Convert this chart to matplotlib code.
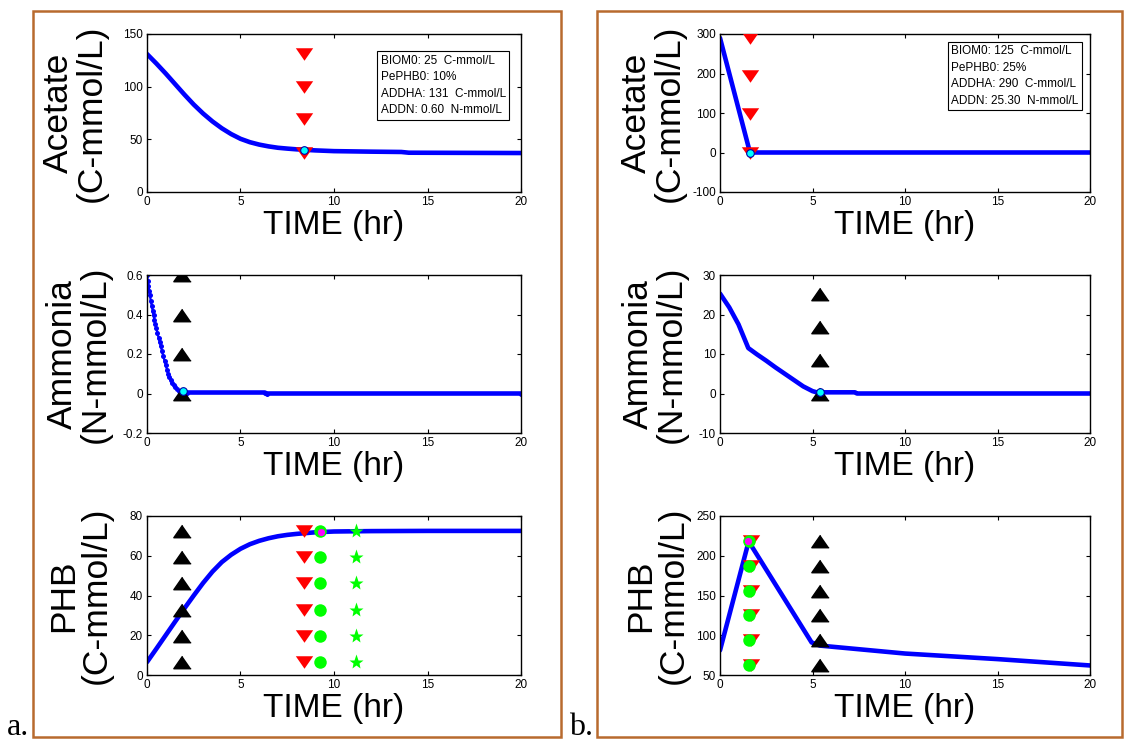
import matplotlib
matplotlib.use("Agg")
import matplotlib.pyplot as plt
from matplotlib.patches import Rectangle
from matplotlib.ticker import FormatStrFormatter

plt.rcParams['font.family'] = ['Liberation Sans', 'DejaVu Sans']
plt.rcParams['axes.unicode_minus'] = False

# ---------------- data ----------------
# panel a, acetate
t_ac_a = [0, 0.5, 1, 1.5, 2, 2.5, 3, 3.5, 4, 4.5, 5, 5.5, 6, 6.5, 7, 7.5, 8, 9, 10, 12, 13.6, 14, 16, 20]
y_ac_a = [131, 122, 112.5, 102.5, 92.5, 83, 74.5, 67, 60.5, 55, 50.5, 47.3, 45, 43.3, 42, 41.2, 40.5, 39.5, 38.8, 38.3, 38, 37.3, 37.2, 37]
# panel b, acetate
t_ac_b = [0, 1.53, 1.62, 20]
y_ac_b = [290, 16, 0, 0]
# panel a, ammonia
t_nh_a = [0, 0.04, 0.08, 0.12, 0.16, 0.2, 0.25, 0.3, 0.35, 0.4, 0.45, 0.5, 0.56, 0.62, 0.68, 0.74, 0.8, 0.87,
          0.94, 1.0, 1.07, 1.14, 1.2, 1.27, 1.34, 1.42, 1.5, 1.6, 1.7, 1.8, 1.9, 2.0, 2.14, 6.3, 6.4, 20]
y_nh_a = [0.6, 0.57, 0.545, 0.52, 0.497, 0.47, 0.445, 0.42, 0.395, 0.372, 0.35, 0.33, 0.305, 0.282, 0.26, 0.24,
          0.215, 0.19, 0.165, 0.145, 0.12, 0.1, 0.083, 0.068, 0.054, 0.042, 0.032, 0.022, 0.014, 0.009, 0.006,
          0.005, 0.005, 0.005, 0.0, 0.0]
# panel b, ammonia
t_nh_b = [0, 0.5, 1.0, 1.53, 2, 2.5, 3, 3.5, 4, 4.5, 5, 5.3, 5.6, 7.3, 7.4, 20]
y_nh_b = [25.3, 21.8, 17.5, 11.5, 9.9, 8.3, 6.6, 5.0, 3.4, 1.8, 0.6, 0.2, 0.3, 0.3, 0.0, 0.0]
# panel a, PHB
t_phb_a = [0, 0.5, 1, 1.5, 2, 2.5, 3, 3.5, 4, 4.5, 5, 5.5, 6, 6.5, 7, 7.5, 8, 9, 10, 12, 15, 20]
y_phb_a = [6.5, 13.2, 20, 26.8, 33.5, 40, 46.3, 52, 56.8, 60.5, 63.5, 65.8, 67.5, 68.8, 69.8, 70.5, 71, 71.8,
           72.2, 72.4, 72.5, 72.5]
# panel b, PHB
t_phb_b = [0, 1.55, 4.95, 5.4, 10, 15, 20]
y_phb_b = [81, 218, 91, 87, 77, 70, 62]

# measurement markers
ac_a_tri_t = 8.4
ac_a_tri_y = [131, 100, 69, 37]
ac_a_pt = (8.4, 40)
ac_b_tri_t = 1.6
ac_b_tri_y = [290, 193, 97, 0]
ac_b_pt = (1.6, 0)

nh_a_tri_t = 1.85
nh_a_tri_y = [0.6, 0.4, 0.2, 0.0]
nh_a_pt = (1.9, 0.015)
nh_b_tri_t = 5.4
nh_b_tri_y = [25.3, 16.9, 8.4, 0.0]
nh_b_pt = (5.4, 0.3)

phb_a_levels = [6.5, 19.7, 32.9, 46.1, 59.3, 72.5]
phb_a_black_t = 1.85
phb_a_red_t = 8.4
phb_a_green_t = 9.25
phb_a_star_t = 11.2
phb_a_pt = (9.3, 72)

phb_b_levels = [63, 94, 125, 156, 187, 218]
phb_b_red_t = 1.65
phb_b_green_t = 1.55
phb_b_black_t = 5.4
phb_b_pt = (1.5, 218)

info_a = ["BIOM0: 25  C-mmol/L", "PePHB0: 10%", "ADDHA: 131  C-mmol/L", "ADDN: 0.60  N-mmol/L"]
info_b = ["BIOM0: 125  C-mmol/L", "PePHB0: 25%", "ADDHA: 290  C-mmol/L", "ADDN: 25.30  N-mmol/L"]

ylabels = ["Acetate\n(C-mmol/L)", "Ammonia\n(N-mmol/L)", "PHB\n(C-mmol/L)"]
xlabel = "TIME (hr)"

# ---------------- figure ----------------
W, H = 1125, 740
fig = plt.figure(figsize=(W / 100, H / 100), dpi=100)

def fx(px):
    return px / W

def fy(py):
    return 1 - py / H

frame_col = '#B86A2E'
fig.patches.append(Rectangle((fx(33), fy(737)), fx(561 - 33), (737 - 11) / H,
                             transform=fig.transFigure, fill=False, ec=frame_col, lw=1.8))
fig.patches.append(Rectangle((fx(597), fy(737)), fx(1122 - 597), (737 - 11) / H,
                             transform=fig.transFigure, fill=False, ec=frame_col, lw=1.8))
fig.text(fx(7), fy(735), "a.", family=['Liberation Serif'], fontsize=23, ha='left', va='baseline')
fig.text(fx(569), fy(735), "b.", family=['Liberation Serif'], fontsize=23, ha='left', va='baseline')

col_x = [(147, 521), (720, 1090)]
row_y = [(34, 192), (275, 433), (516, 675)]
label_right = [[108, 686], [112, 688], [113, 690]]

ylims = [[(0, 150), (-100, 300)], [(-0.2, 0.6), (-10, 30)], [(0, 80), (50, 250)]]
yticks = [[[0, 50, 100, 150], [-100, 0, 100, 200, 300]],
          [[-0.2, 0, 0.2, 0.4, 0.6], [-10, 0, 10, 20, 30]],
          [[0, 20, 40, 60, 80], [50, 100, 150, 200, 250]]]

axes = {}
for r in range(3):
    for c in range(2):
        x0, x1 = col_x[c]
        y0, y1 = row_y[r]
        ax = fig.add_axes([fx(x0), fy(y1), fx(x1 - x0), (y1 - y0) / H])
        ax.set_xlim(0, 20)
        ax.set_ylim(*ylims[r][c])
        ax.set_xticks([0, 5, 10, 15, 20])
        ax.set_yticks(yticks[r][c])
        ax.yaxis.set_major_formatter(FormatStrFormatter('%g'))
        ax.tick_params(direction='in', top=True, right=True, length=3, width=0.8,
                       labelsize=8.5, pad=3)
        for s in ax.spines.values():
            s.set_linewidth(1.0)
        ax.set_xlabel(xlabel, fontsize=24, labelpad=1)
        ax.set_ylabel(ylabels[r], fontsize=25.5, linespacing=1.0)
        ax.yaxis.set_label_coords((label_right[r][c] - x0) / (x1 - x0), 0.5)
        axes[(r, c)] = ax

LW = 3.3
blue = '#0000FF'
TRI = 12.5
CIRC = 9
up_tri = [(0, 0.72), (-1, -0.72), (1, -0.72)]
down_tri = [(0, -0.72), (-1, 0.72), (1, 0.72)]

# acetate a
ax = axes[(0, 0)]
ax.plot(t_ac_a, y_ac_a, color=blue, lw=LW, zorder=2, solid_capstyle='round')
ax.plot([ac_a_tri_t] * len(ac_a_tri_y), ac_a_tri_y, ls='none', marker=down_tri, color='#FF0000', ms=TRI, mec='none', zorder=3)
ax.plot(*ac_a_pt, 'o', mfc='#00FFFF', mec='#0000AA', ms=5.5, mew=0.8, zorder=4)
ax.text(0.625, 0.87, "\n".join(info_a), transform=ax.transAxes, fontsize=8.5, va='top', ha='left',
        linespacing=1.5, bbox=dict(boxstyle='square,pad=0.3', fc='white', ec='black', lw=0.8))

# acetate b
ax = axes[(0, 1)]
ax.plot(t_ac_b, y_ac_b, color=blue, lw=LW, zorder=2, solid_capstyle='round')
ax.plot([ac_b_tri_t] * len(ac_b_tri_y), ac_b_tri_y, ls='none', marker=down_tri, color='#FF0000', ms=TRI, mec='none', zorder=3)
ax.plot(*ac_b_pt, 'o', mfc='#00FFFF', mec='#0000AA', ms=5.5, mew=0.8, zorder=4)
ax.text(0.625, 0.93, "\n".join(info_b), transform=ax.transAxes, fontsize=8.5, va='top', ha='left',
        linespacing=1.5, bbox=dict(boxstyle='square,pad=0.3', fc='white', ec='black', lw=0.8))

# ammonia a
ax = axes[(1, 0)]
ax.plot(t_nh_a, y_nh_a, color=blue, lw=1.6, marker='o', ms=3.6, mec='none', zorder=2)
ax.plot(t_nh_a[-5:], y_nh_a[-5:], color=blue, lw=LW, zorder=2)
ax.plot([nh_a_tri_t] * len(nh_a_tri_y), nh_a_tri_y, ls='none', marker=up_tri, color='black', ms=TRI, zorder=3)
ax.plot(*nh_a_pt, 'o', mfc='#00FFFF', mec='#0000AA', ms=5.5, mew=0.8, zorder=4)

# ammonia b
ax = axes[(1, 1)]
ax.plot(t_nh_b, y_nh_b, color=blue, lw=LW, zorder=2, solid_capstyle='round')
ax.plot([nh_b_tri_t] * len(nh_b_tri_y), nh_b_tri_y, ls='none', marker=up_tri, color='black', ms=TRI, zorder=3)
ax.plot(*nh_b_pt, 'o', mfc='#00FFFF', mec='#0000AA', ms=5.5, mew=0.8, zorder=4)

# PHB a
ax = axes[(2, 0)]
ax.plot(t_phb_a, y_phb_a, color=blue, lw=LW, zorder=2, solid_capstyle='round')
n = len(phb_a_levels)
ax.plot([phb_a_black_t] * n, phb_a_levels, ls='none', marker=up_tri, color='black', ms=TRI, zorder=3)
ax.plot([phb_a_red_t] * n, phb_a_levels, ls='none', marker=down_tri, color='#FF0000', ms=TRI, mec='none', zorder=3)
ax.plot([phb_a_green_t] * n, phb_a_levels, 'o', color='#00FF00', ms=CIRC, mec='none', zorder=3)
ax.plot([phb_a_star_t] * n, phb_a_levels, '*', color='#00FF00', ms=11, mec='none', zorder=3)
ax.plot(*phb_a_pt, 'o', mfc='#FF00FF', mec='#00FF00', ms=6, mew=0.8, zorder=4)

# PHB b
ax = axes[(2, 1)]
ax.plot(t_phb_b, y_phb_b, color=blue, lw=LW, zorder=2, solid_capstyle='round')
n = len(phb_b_levels)
ax.plot([phb_b_red_t] * n, phb_b_levels, ls='none', marker=down_tri, color='#FF0000', ms=TRI, mec='none', zorder=3)
ax.plot([phb_b_green_t] * n, phb_b_levels, 'o', color='#00FF00', ms=CIRC, mec='none', zorder=3)
ax.plot([phb_b_black_t] * n, phb_b_levels, ls='none', marker=up_tri, color='black', ms=TRI, zorder=3)
ax.plot(*phb_b_pt, 'o', mfc='#FF00FF', mec='#00FF00', ms=6, mew=0.8, zorder=4)

fig.savefig("out.png", dpi=100)
